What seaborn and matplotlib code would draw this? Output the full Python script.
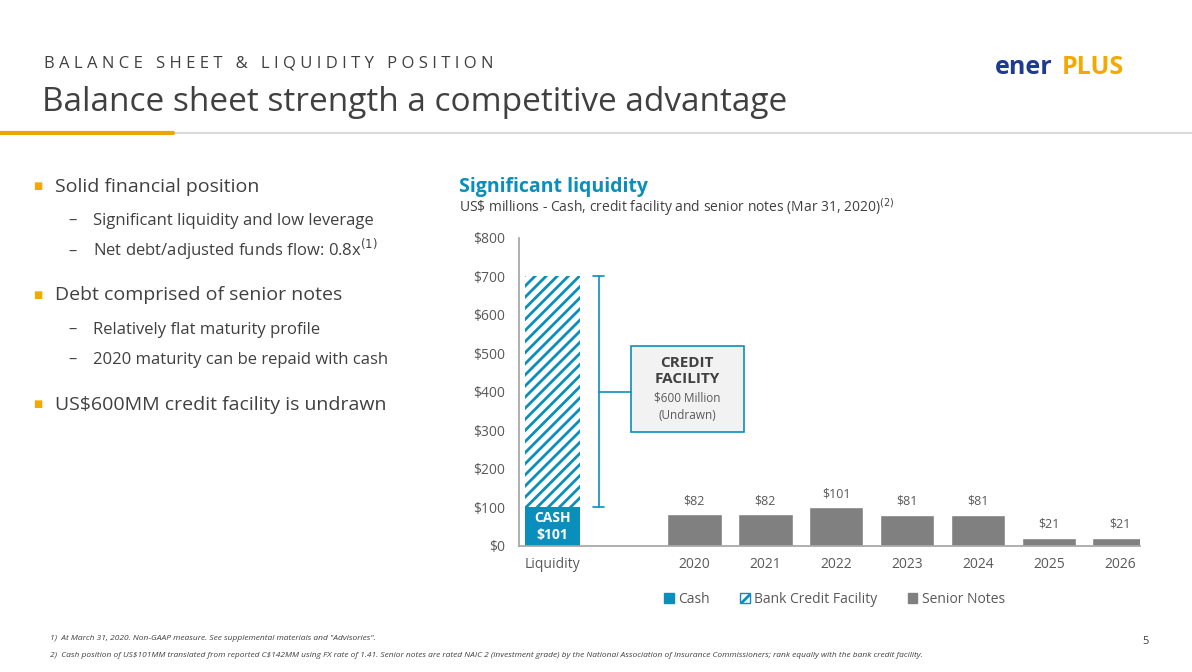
import numpy as np
import pandas as pd
import seaborn as sns
import matplotlib.pyplot as plt
from matplotlib.patches import Rectangle
from matplotlib.lines import Line2D

years = ['2020', '2021', '2022', '2023', '2024', '2025', '2026']
senior_notes = [82, 82, 101, 81, 81, 21, 21]
cash = 101
credit_facility = 600
categories = ['Liquidity', ' '] + years
yticks = [0, 100, 200, 300, 400, 500, 600, 700, 800]

TEAL = '#0a8fbd'
GREY = '#808080'
TXT = '#595959'

sns.set_theme(style='white')
plt.rcParams['font.family'] = ['Open Sans', 'DejaVu Sans']
plt.rcParams['hatch.color'] = TEAL
plt.rcParams['hatch.linewidth'] = 2.0

fig = plt.figure(figsize=(11.92, 6.72), dpi=100)

# header
header = '   '.join(' '.join(w) for w in 'BALANCE SHEET & LIQUIDITY POSITION'.split(' '))
fig.text(0.037, 0.9, header, fontsize=12, color='#404040')
fig.text(0.035, 0.835, 'Balance sheet strength a competitive advantage', fontsize=24, color='#404040')
fig.add_artist(Line2D([0, 1], [0.802, 0.802], color='#d9d9d9', lw=1.5))
fig.add_artist(Line2D([0, 0.145], [0.802, 0.802], color='#e8a800', lw=3))
fig.text(0.835, 0.89, 'ener', fontsize=18, color='#1f3a93', fontweight='bold')
fig.text(0.891, 0.89, 'PLUS', fontsize=18, color='#f2a900', fontweight='bold')

# bullets
bul = [(0.715, 'Solid financial position', 0), (0.665, 'Significant liquidity and low leverage', 1),
       (0.62, r'Net debt/adjusted funds flow: 0.8x$^{(1)}$', 1), (0.553, 'Debt comprised of senior notes', 0),
       (0.503, 'Relatively flat maturity profile', 1), (0.458, '2020 maturity can be repaid with cash', 1),
       (0.39, r'US\$600MM credit facility is undrawn', 0)]
for y, t, lvl in bul:
    if lvl == 0:
        fig.text(0.028, y + 0.004, '■', fontsize=7, color='#f2a900')
        fig.text(0.046, y, t, fontsize=14, color='#404040')
    else:
        fig.text(0.057, y, '–', fontsize=12, color='#404040')
        fig.text(0.078, y, t, fontsize=12, color='#404040')

fig.text(0.385, 0.715, 'Significant liquidity', fontsize=14, color=TEAL, fontweight='bold')
fig.text(0.385, 0.685, r'US\$ millions - Cash, credit facility and senior notes (Mar 31, 2020)$^{(2)}$',
         fontsize=10, color='#404040')

ax = fig.add_axes([0.435, 0.1875, 0.521, 0.4585])
df = pd.DataFrame({'cat': years, 'val': senior_notes})
sns.barplot(data=df, x='cat', y='val', order=categories, color=GREY, saturation=1, width=0.77, ax=ax)
ax.bar(0, cash, width=0.77, color=TEAL, lw=0)
ax.bar(0, credit_facility, bottom=cash, width=0.77, color='white', edgecolor=TEAL, hatch='///', lw=0)
ax.text(0, cash / 2, 'CASH\n$101', ha='center', va='center', color='white', fontsize=10, fontweight='bold')
for i, v in enumerate(senior_notes):
    ax.text(i + 2, v + 18, f'${v}', ha='center', va='bottom', fontsize=9, color=TXT)

# bracket
bx = 0.65
ax.plot([bx, bx], [cash, cash + credit_facility], color=TEAL, lw=1.2)
ax.plot([bx - 0.08, bx + 0.08], [cash, cash], color=TEAL, lw=1.2)
ax.plot([bx - 0.08, bx + 0.08], [cash + credit_facility, cash + credit_facility], color=TEAL, lw=1.2)
ax.plot([bx, 1.1], [400, 400], color=TEAL, lw=1.2)
ax.add_patch(Rectangle((1.1, 295), 1.6, 225, facecolor='#f2f2f2', edgecolor=TEAL, lw=1.2))
ax.text(1.9, 455, 'CREDIT\nFACILITY', ha='center', va='center', fontsize=11, fontweight='bold', color='#404040',
        linespacing=1.2)
ax.text(1.9, 362, '$600 Million\n(Undrawn)', ha='center', va='center', fontsize=8.5, color=TXT, linespacing=1.5)

ax.set_ylim(0, 800)
ax.set_xlim(-0.48, 8.28)
ax.set_yticks(yticks)
ax.set_yticklabels([f'${v}' for v in yticks], fontsize=10, color=TXT)
ax.tick_params(axis='x', labelsize=10, labelcolor=TXT, length=0, pad=8)
ax.set_xlabel('')
ax.set_ylabel('')
for s in ['top', 'right']:
    ax.spines[s].set_visible(False)
ax.spines['left'].set_color('#a6a6a6')
ax.spines['bottom'].set_color('#a6a6a6')

handles = [Rectangle((0, 0), 1, 1, color=TEAL),
           Rectangle((0, 0), 1, 1, facecolor='white', edgecolor=TEAL, hatch='///'),
           Rectangle((0, 0), 1, 1, color=GREY)]
fig.legend(handles, ['Cash', 'Bank Credit Facility', 'Senior Notes'], loc='center', bbox_to_anchor=(0.7, 0.108),
           ncol=3, frameon=False, fontsize=10, handlelength=0.7, handleheight=0.7, handletextpad=0.3,
           columnspacing=2.2, labelcolor=TXT)

fig.text(0.042, 0.048, '1)  At March 31, 2020. Non-GAAP measure. See supplemental materials and "Advisories".',
         fontsize=6, style='italic', color='#404040')
fig.text(0.042, 0.023, r'2)  Cash position of US\$101MM translated from reported C\$142MM using FX rate of 1.41. '
         'Senior notes are rated NAIC 2 (investment grade) by the National Association of Insurance Commissioners; '
         'rank equally with the bank credit facility.', fontsize=6, style='italic', color='#404040')
fig.text(0.958, 0.042, '5', fontsize=8, color='#404040')

fig.savefig('out.png', dpi=100)
